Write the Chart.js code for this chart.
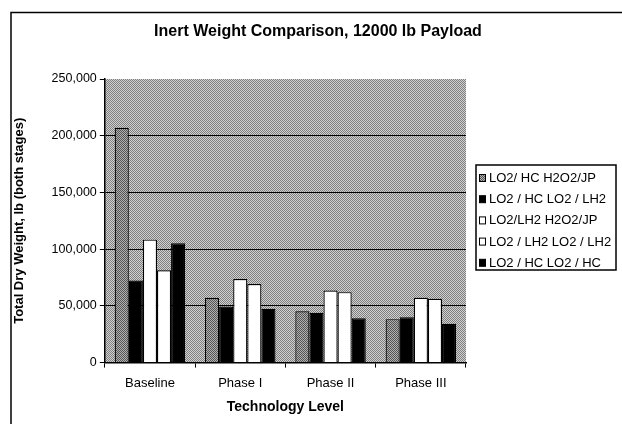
<!DOCTYPE html>
<html><head><meta charset="utf-8">
<script src="https://cdn.jsdelivr.net/npm/chart.js@4"></script>
<style>html,body{margin:0;padding:0;background:#fff}#wrap{width:622px;height:424px}</style>
</head><body><div id="wrap"><canvas id="c" width="622" height="424"></canvas></div>
<script>
const categories = ["Baseline", "Phase I", "Phase II", "Phase III"];
const seriesNames = ["LO2/ HC H2O2/JP", "LO2 / HC LO2 / LH2", "LO2/LH2 H2O2/JP", "LO2 / LH2 LO2 / LH2", "LO2 / HC LO2 / HC"];
const s1 = [207000, 57200, 45300, 38300];
const s2 = [72400, 49500, 43900, 40000];
const s3 = [108400, 73600, 63600, 57200];
const s4 = [81300, 69200, 62100, 56300];
const s5 = [105100, 47400, 39100, 34200];
const yTicks = [0, 50000, 100000, 150000, 200000, 250000];
const chartTitle = 'Inert Weight Comparison, 12000 lb Payload';
const FONT = 'Liberation Sans, Arial, sans-serif';

function makePattern(colors) {
  const n = colors.length;
  const cv = document.createElement('canvas');
  cv.width = n; cv.height = n;
  const g = cv.getContext('2d');
  for (let y = 0; y < n; y++) for (let x = 0; x < n; x++) {
    g.fillStyle = colors[(x + y) % n];
    g.fillRect(x, y, 1, 1);
  }
  return g.createPattern(cv, 'repeat');
}
const bgPattern = makePattern(['#7e7e7e', '#d2d2d2']);
const s1Pattern = makePattern(['#555555', '#b0b0b0']);

const frame = {
  id: 'frame',
  beforeDraw(chart) {
    const ctx = chart.ctx, a = chart.chartArea;
    ctx.save();
    ctx.fillStyle = '#fff';
    ctx.fillRect(0, 0, chart.width, chart.height);
    ctx.strokeStyle = '#000'; ctx.lineWidth = 1.5;
    ctx.beginPath();
    ctx.moveTo(11, chart.height); ctx.lineTo(11, 12.5); ctx.lineTo(chart.width, 12.5);
    ctx.stroke();
    ctx.fillStyle = bgPattern;
    ctx.fillRect(a.left, a.top, a.right - a.left, a.bottom - a.top);
    ctx.restore();
  },
  afterDraw(chart) {
    const ctx = chart.ctx;
    ctx.save();
    // title
    ctx.fillStyle = '#000';
    ctx.font = 'bold 16px ' + FONT;
    ctx.textAlign = 'center'; ctx.textBaseline = 'middle';
    ctx.fillText(chartTitle, 318, 32);
    // legend
    const bx = 476, by = 165, bw = 140, bh = 105;
    ctx.strokeStyle = '#000'; ctx.lineWidth = 1.5;
    ctx.fillStyle = '#fff';
    ctx.fillRect(bx, by, bw, bh);
    ctx.strokeRect(bx, by, bw, bh);
    ctx.font = '13px ' + FONT;
    ctx.textAlign = 'left';
    chart.data.datasets.forEach((ds, i) => {
      const cy = 178 + i * 21.2;
      ctx.fillStyle = ds.backgroundColor;
      ctx.fillRect(479.5, cy - 3.5, 6, 7);
      ctx.lineWidth = 1;
      ctx.strokeRect(479.5, cy - 3.5, 6, 7);
      ctx.fillStyle = '#000';
      ctx.fillText(ds.label, 489, cy + 0.5);
    });
    ctx.restore();
  }
};

const fills = [s1Pattern, '#000', '#fff', '#fff', '#000'];
const dataArrays = [s1, s2, s3, s4, s5];
new Chart(document.getElementById('c'), {
  type: 'bar',
  data: {
    labels: categories,
    datasets: dataArrays.map((d, i) => ({
      label: seriesNames[i],
      data: d,
      backgroundColor: fills[i],
      borderColor: '#000',
      borderWidth: 1.2,
      borderSkipped: 'bottom',
      categoryPercentage: 0.78,
      barPercentage: 1.0
    }))
  },
  options: {
    responsive: false,
    animation: false,
    devicePixelRatio: 1,
    layout: { padding: { left: 8, right: 156, top: 79, bottom: 8 } },
    plugins: {
      title: { display: false },
      legend: { display: false },
      tooltip: { enabled: false }
    },
    scales: {
      x: {
        grid: { display: true, drawOnChartArea: false, offset: true, color: '#000', tickLength: 5, tickColor: '#000' },
        border: { color: '#000', width: 1.5 },
        ticks: { color: '#000', font: { family: FONT, size: 13 }, padding: 8 },
        title: { display: true, text: 'Technology Level', color: '#000',
          font: { family: FONT, size: 14, weight: 'bold' }, padding: { top: 0, bottom: 0 } }
      },
      y: {
        min: 0, max: 250000,
        afterBuildTicks(scale) { scale.ticks = yTicks.map(v => ({ value: v })); },
        grid: { color: ctx => (ctx.tick && ctx.tick.value === 250000) ? 'rgba(0,0,0,0)' : '#000',
          lineWidth: 1, tickLength: 5, tickColor: '#000' },
        border: { color: '#000', width: 1.5 },
        ticks: { color: '#000', font: { family: FONT, size: 12.5 }, padding: 3,
          callback: v => v.toLocaleString('en-US') },
        title: { display: true, text: 'Total Dry Weight, lb (both stages)', color: '#000',
          font: { family: FONT, size: 13, weight: 'bold' }, padding: { top: 4, bottom: 21 } }
      }
    }
  },
  plugins: [frame]
});
</script></body></html>
